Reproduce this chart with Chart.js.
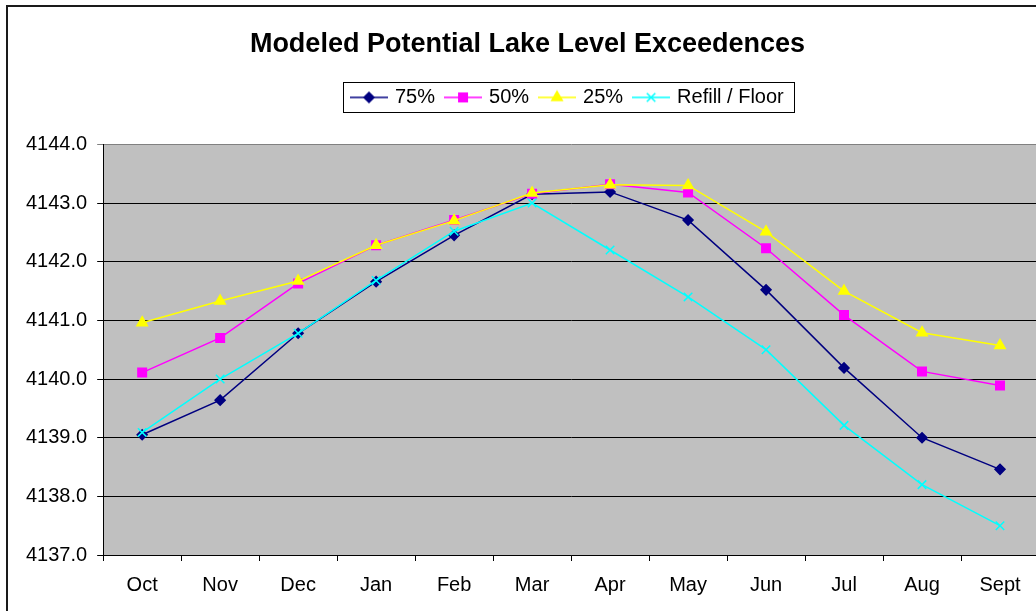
<!DOCTYPE html>
<html>
<head>
<meta charset="utf-8">
<script src="https://cdn.jsdelivr.net/npm/chart.js@4/dist/chart.umd.min.js"></script>
<style>
  html, body { margin: 0; padding: 0; background: #fff; overflow: hidden; }
  #frame { position: absolute; left: 6px; top: 5px; width: 1100px; height: 700px; border: 2px solid #1a1a1a; }
  #wrap { position: absolute; left: 0; top: 0; width: 1050px; height: 611px; }
</style>
</head>
<body>
<div id="frame"></div>
<div id="wrap"><canvas id="lakeChart"></canvas></div>
<script>
// Datos
const months = ['Oct', 'Nov', 'Dec', 'Jan', 'Feb', 'Mar', 'Apr', 'May', 'Jun', 'Jul', 'Aug', 'Sept'];
const seriesNames = ['75%', '50%', '25%', 'Refill / Floor'];
const p75 = [4139.05, 4139.64, 4140.78, 4141.66, 4142.45, 4143.15, 4143.19, 4142.71, 4141.52, 4140.19, 4139.00, 4138.46];
const p50 = [4140.11, 4140.70, 4141.63, 4142.28, 4142.71, 4143.16, 4143.32, 4143.18, 4142.23, 4141.09, 4140.13, 4139.89];
const p25 = [4140.96, 4141.33, 4141.67, 4142.28, 4142.70, 4143.17, 4143.31, 4143.30, 4142.51, 4141.50, 4140.79, 4140.57];
const refill = [4139.09, 4140.00, 4140.78, 4141.68, 4142.52, 4143.00, 4142.20, 4141.40, 4140.50, 4139.21, 4138.20, 4137.50];
const yMin = 4137, yMax = 4144;

const FONT = "'Liberation Sans', Arial, sans-serif";
const legendPad = 12;
const legendStart = 353;  // x of first legend symbol
const legendLift = 27;

// pequeno icono de leyenda: linea + marcador
function legendIcon(ds) {
    const c = document.createElement('canvas');
    c.width = 38; c.height = 16;
    const g = c.getContext('2d');
    g.strokeStyle = ds.borderColor;
    g.lineWidth = 1.5;
    g.beginPath(); g.moveTo(0, 8); g.lineTo(38, 8); g.stroke();
    g.fillStyle = ds.pointBackgroundColor;
    g.strokeStyle = ds.pointBorderColor;
    Chart.helpers.drawPoint(g, { pointStyle: ds.pointStyle, radius: ds.pointRadius, borderWidth: ds.pointBorderWidth, rotation: 0 }, 19, 8);
    return c;
}

function serie(label, data, color, style, radius, order) {
    return {
        label, data, order,
        borderColor: color, borderWidth: 1.5, tension: 0,
        pointStyle: style, pointRadius: radius, pointHoverRadius: radius,
        pointBackgroundColor: color, pointBorderColor: color, pointBorderWidth: 1.5
    };
}

const datasets = [
    serie(seriesNames[0], p75, '#000080', 'rectRot', 5, 4),
    serie(seriesNames[1], p50, '#FF00FF', 'rect', 6, 3),
    serie(seriesNames[2], p25, '#FFFF00', 'triangle', 6, 2),
    serie(seriesNames[3], refill, '#00FFFF', 'crossRot', 6, 1)
];

const plotBg = {
    id: 'plotBg',
    beforeDraw(chart) {
        const { ctx, chartArea: a } = chart;
        ctx.save();
        ctx.fillStyle = '#C0C0C0';
        ctx.fillRect(a.left, a.top, a.right - a.left, a.bottom - a.top);
        ctx.restore();
    },
    afterLayout(chart) {
        const lg = chart.legend;
        const start = (lg.left + legendPad + lg.right - lg.lineWidths[0]) / 2;
        const dx = legendStart - start;
        lg.left += dx; lg.right += dx;
        lg.top -= legendLift; lg.bottom -= legendLift;
    },
    afterDraw(chart) {
        const lg = chart.legend, ctx = chart.ctx;
        const x0 = (lg.left + legendPad + lg.right - lg.lineWidths[0]) / 2;
        const x1 = x0 + lg.lineWidths[0] - legendPad;
        const cy = lg.top + legendPad + 10;
        ctx.save();
        ctx.strokeStyle = '#000';
        ctx.lineWidth = 1;
        ctx.strokeRect(Math.round(x0 - 10) + 0.5, Math.round(cy - 15) + 0.5, Math.round(x1 - x0 + 20), 30);
        ctx.restore();
    }
};

new Chart(document.getElementById('lakeChart'), {
    type: 'line',
    data: { labels: months, datasets },
    options: {
        responsive: true,
        maintainAspectRatio: false,
        animation: false,
        devicePixelRatio: 1,
        layout: { padding: { left: 16, right: 11, top: 0, bottom: 2 } },
        scales: {
            x: {
                offset: true,
                grid: { offset: true, drawOnChartArea: false, drawTicks: true, tickLength: 6, color: '#000' },
                border: { color: '#000', width: 1 },
                ticks: { color: '#000', padding: 12, font: { family: FONT, size: 20 }, maxRotation: 0, autoSkip: false }
            },
            y: {
                min: yMin, max: yMax,
                grid: {
                    color: c => (c.tick && c.tick.value === yMax) ? '#808080' : '#000',
                    tickLength: 6
                },
                border: { color: '#000', width: 1 },
                ticks: { stepSize: 1, color: '#000', padding: 10, font: { family: FONT, size: 20 }, callback: v => Number(v).toFixed(1) }
            }
        },
        plugins: {
            title: {
                display: true,
                text: 'Modeled Potential Lake Level Exceedences',
                color: '#000',
                font: { family: FONT, size: 27, weight: 'bold' },
                padding: { top: 28, bottom: 42 }
            },
            legend: {
                display: true,
                labels: {
                    usePointStyle: true,
                    pointStyleWidth: 32,
                    padding: legendPad,
                    color: '#000',
                    font: { family: FONT, size: 20 },
                    generateLabels: chart => chart.data.datasets.map((ds, i) => ({
                        text: ds.label,
                        pointStyle: legendIcon(ds),
                        fillStyle: ds.borderColor,
                        strokeStyle: ds.borderColor,
                        lineWidth: 0,
                        fontColor: '#000',
                        hidden: false,
                        datasetIndex: i
                    }))
                }
            },
            tooltip: { enabled: false }
        }
    },
    plugins: [plotBg]
});
</script>
</body>
</html>
